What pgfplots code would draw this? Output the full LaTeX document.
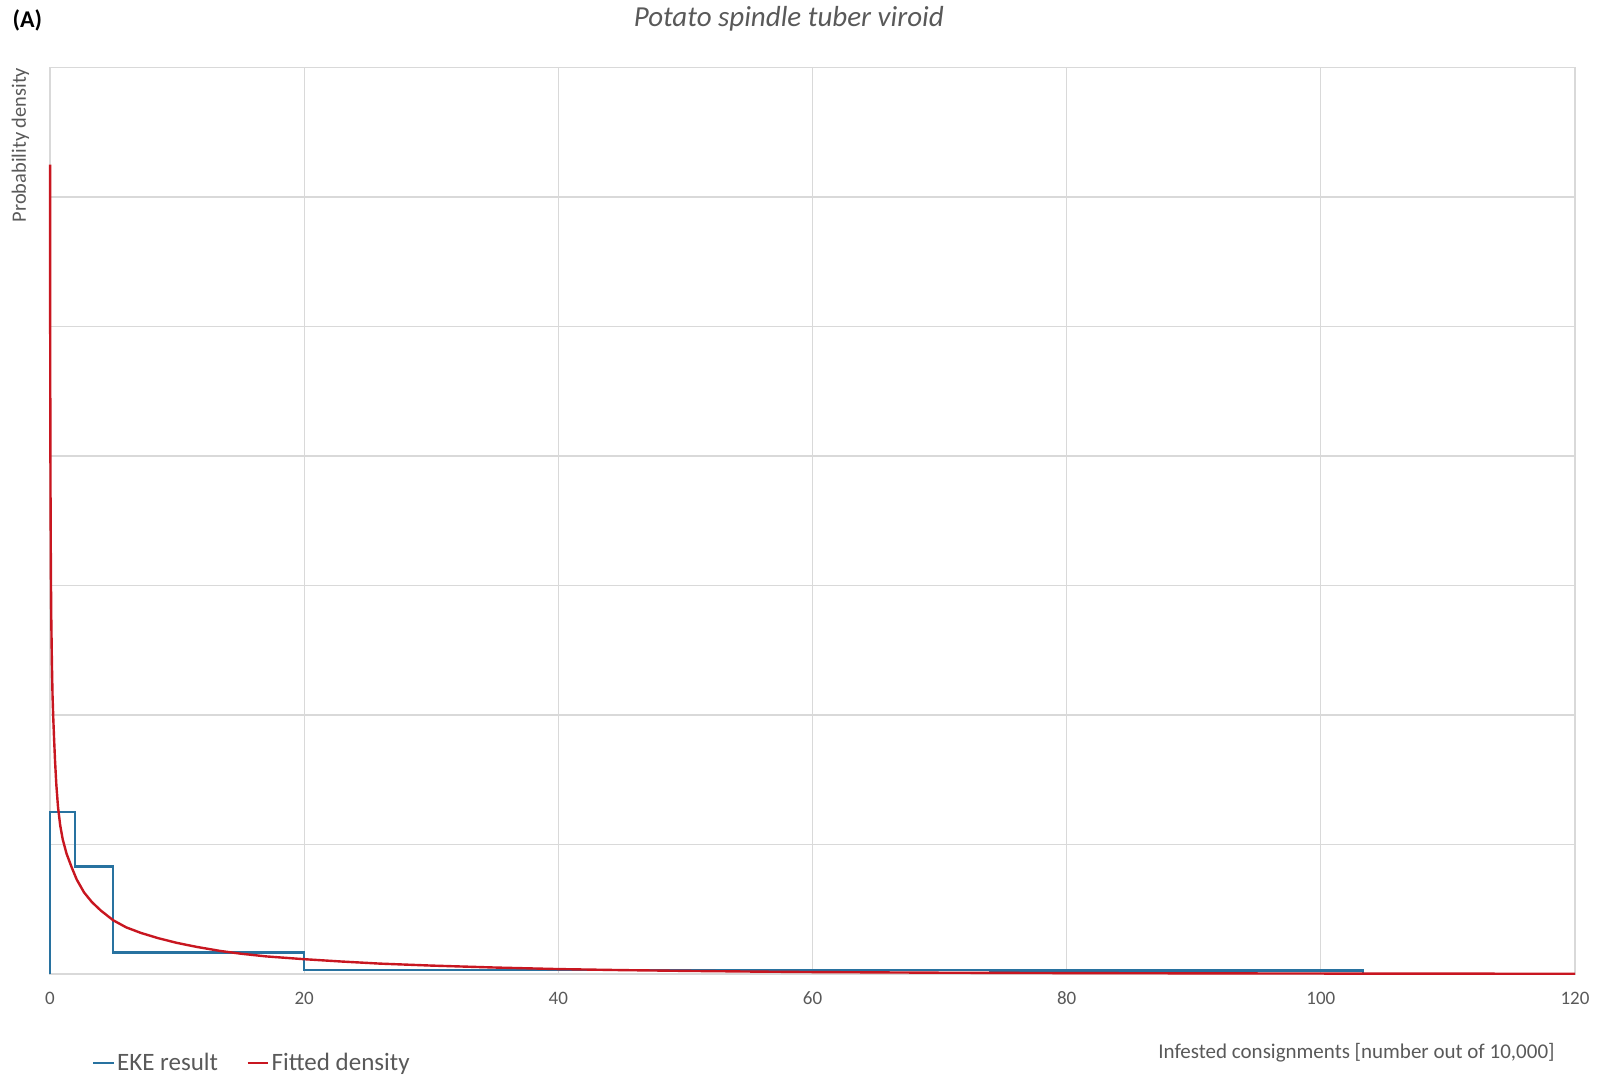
\documentclass[border=0pt]{standalone}
\usepackage{fontspec}
\setmainfont{Carlito}
\usepackage{pgfplots}
\pgfplotsset{compat=1.18}
\definecolor{ekeblue}{RGB}{40,114,160}
\definecolor{fitred}{RGB}{200,22,32}
\definecolor{gridgray}{RGB}{217,217,217}
\definecolor{txtgray}{RGB}{89,89,89}
\begin{document}
\begin{tikzpicture}
\useasboundingbox (-25bp,-53bp) rectangle (775bp,487bp);
\begin{axis}[
  at={(0,0)}, anchor=south west,
  scale only axis,
  width=762.5bp, height=453.25bp,
  xmin=0, xmax=120, ymin=0, ymax=7,
  xtick={0,20,...,120},
  ytick={0,1,...,7},
  yticklabels={},
  grid=major,
  grid style={draw=gridgray, line width=0.6bp},
  axis line style={draw=gridgray, line width=0.6bp},
  major tick length=0pt,
  /pgf/number format/assume math mode=true,
  xticklabel style={font=\fontsize{9.5bp}{11bp}\selectfont, text=txtgray, anchor=center, yshift=-12bp},
  legend style={at={(0.0274,-0.0982)}, anchor=west, draw=none, fill=none, inner sep=0pt,
    font=\fontsize{12.5bp}{14bp}\selectfont, text=txtgray,
    legend columns=2,
    /tikz/every even column/.append style={column sep=13bp},
    nodes={inner sep=1.2bp}},
  legend image code/.code={\draw[#1] (0bp,0bp) -- (10.2bp,0bp);},
  clip=false,
]
\addplot[ekeblue, line width=1.1bp, line join=miter] coordinates {
(0,0) (0,1.252) (1.95,1.252) (1.95,0.83) (4.97,0.83) (4.97,0.166) (20,0.166) (20,0.030) (74,0.030) (74,0.027) (103.3,0.027) (103.3,0)
};
\addlegendentry{EKE result}
\addplot[fitred, line width=1.2bp, line join=round] coordinates {
(0.004,6.25) (0.01,5.4) (0.02,4.6) (0.04,3.75) (0.07,3.1) (0.1,2.75) (0.15,2.4)
(0.2,2.15) (0.26,1.97) (0.32,1.82) (0.395,1.65) (0.5,1.46) (0.63,1.29) (0.8,1.15)
(1.0,1.04) (1.3,0.93) (1.68,0.83) (2.1,0.73) (2.68,0.63) (3.3,0.555) (4.0,0.49)
(4.97,0.415) (6.0,0.36) (7.16,0.317) (8.5,0.277) (10,0.24) (11.5,0.21) (13.4,0.178)
(15,0.157) (17,0.136) (19.9,0.115) (23,0.096) (26,0.080) (30,0.065) (35,0.050)
(40,0.038) (45,0.030) (50,0.024) (55,0.019) (60,0.015) (70,0.010) (80,0.007)
(90,0.005) (100,0.0035) (110,0.0025) (120,0.002)
};
\addlegendentry{Fitted density}
\end{axis}
\node[anchor=center, text=txtgray, font=\fontsize{14.5bp}{17bp}\selectfont\itshape] at (369.4bp,477.8bp) {Potato spindle tuber viroid};
\node[anchor=west, inner sep=0pt, font=\fontsize{12bp}{14bp}\selectfont\bfseries] at (-18.9bp,476.8bp) {(A)};
\node[anchor=east, rotate=90, inner sep=0pt, text=txtgray, font=\fontsize{10.2bp}{12bp}\selectfont] at (-14.8bp,453.3bp) {Probability density};
\node[anchor=east, inner sep=0pt, text=txtgray, font=\fontsize{10.5bp}{12.5bp}\selectfont] at (752.5bp,-39.5bp) {Infested consignments [number out of 10,000]};
\end{tikzpicture}
\end{document}
